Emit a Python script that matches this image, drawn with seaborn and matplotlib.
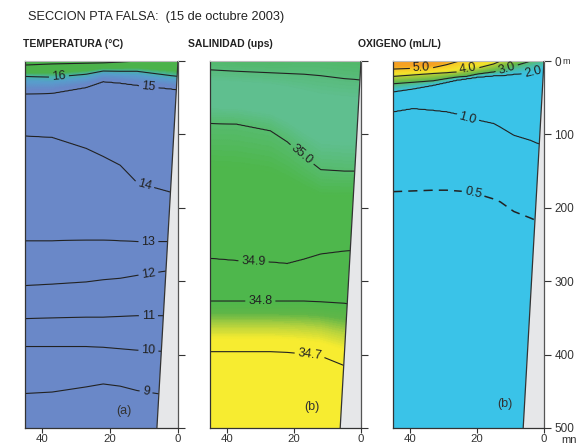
import numpy as np
import matplotlib
matplotlib.use("Agg")
import matplotlib.pyplot as plt
from matplotlib.colors import LinearSegmentedColormap, Normalize
import seaborn as sns

# ---------------- data ----------------
# Temperature (°C): depth (m) of each isotherm at distance from coast (nm)
temp_dist = [0, 2, 12, 17, 22, 27, 37, 45]
temp_levels = [17, 16, 15, 14, 13, 12, 11, 10, 9]
temp_d17 = [-3, -3, 0, 1.5, 2.5, 3, 4, 5.5]
temp_d16 = [21, 20, 14, 14, 13.6, 18, 22, 21]
temp_d15 = [39, 38, 33, 30, 28, 36, 44, 45]
temp_d14 = [180, 179, 166, 142, 130, 119, 104, 102]
temp_d13 = [246, 246, 246, 245, 244, 244, 245, 245]
temp_d12 = [285, 285, 292, 296, 298, 301, 304, 306]
temp_d11 = [347, 347, 347, 348, 349, 349, 350, 351]
temp_d10 = [396, 396, 394, 392, 390, 389, 389, 389]
temp_d9 = [456, 456, 449, 443, 440, 444, 451, 453]
temp_labels = [16, 15, 14, 13, 12, 11, 10, 9]

# Salinity (ups)
sal_dist = [0, 2, 5, 12, 17, 22, 27, 37, 45]
sal_levels = [35.1, 35.0, 34.9, 34.8, 34.7]
sal_d351 = [26, 25, 24, 20, 18, 17, 16, 14, 12]
sal_d350 = [150, 150, 150, 148, 130, 110, 95, 86, 85]
sal_d349 = [258, 258, 259, 263, 270, 276, 274, 272, 269]
sal_d348 = [333, 332, 330, 328, 327, 327, 327, 327, 327]
sal_d347 = [416, 416, 415, 402, 399, 397, 396, 396, 396]
sal_labels = [35.0, 34.9, 34.8, 34.7]

# Oxygen (mL/L)
oxy_dist = [0, 2, 4, 9, 13, 15, 20, 23, 26, 29, 33, 39, 45]
oxy_levels = [5.0, 4.0, 3.0, 2.0, 1.0, 0.5]
oxy_d50 = [-6, -6, -6, -6, -6, -6, -5, -3, 1, 5, 9, 10, 11]
oxy_d40 = [-4, -4, -4, -4, 0, 4, 10, 11, 15, 16, 17, 19, 21]
oxy_d30 = [-2, -2, 0, 7, 13, 15, 18, 21, 22, 24, 27, 29, 31]
oxy_d20 = [10, 13, 16, 18, 20, 20, 22, 24, 26, 29, 33, 38, 42]
oxy_d10 = [114, 112, 108, 101, 90, 85, 80, 77, 72, 69, 67, 64.5, 69]
oxy_d05 = [219, 218, 214, 205, 192, 188, 181, 178, 177, 176, 176, 177, 178]
oxy_labels = [5.0, 4.0, 3.0, 2.0, 1.0, 0.5]

# bottom topography (nm, m)
topo_dist = [0, 6.2]
topo_depth = [0, 500]

depth_ticks = [0, 100, 200, 300, 400, 500]
depth_ticklabels = ["0", "100", "200", "300", "400", "500"]
dist_ticks = [40, 20, 0]


# ---------------- helpers ----------------
def section_field(dist, levels, rows, xg, zg):
    D = np.array([np.interp(xg, dist, r) for r in rows])
    L = np.array(levels, float)
    F = np.empty((len(zg), len(xg)))
    for j in range(len(xg)):
        d = D[:, j]
        v = np.interp(zg, d, L)
        top = zg < d[0]
        v[top] = L[0] + (L[0] - L[1]) / (d[1] - d[0]) * (d[0] - zg[top])
        bot = zg > d[-1]
        v[bot] = L[-1] + (L[-1] - L[-2]) / (d[-1] - d[-2]) * (zg[bot] - d[-1])
        F[:, j] = v
    return F


def make_cmap(nodes, vmin, vmax):
    lst = [((v - vmin) / (vmax - vmin), tuple(c / 255 for c in col)) for v, col in nodes]
    return LinearSegmentedColormap.from_list("c", lst), Normalize(vmin, vmax)


sns.set_style("ticks")
plt.rcParams["font.family"] = ["Liberation Sans", "DejaVu Sans"]

xg = np.linspace(0, 45, 226)
zg = np.linspace(0, 500, 501)

T = section_field(temp_dist, temp_levels,
                  [temp_d17, temp_d16, temp_d15, temp_d14, temp_d13,
                   temp_d12, temp_d11, temp_d10, temp_d9], xg, zg)
S = section_field(sal_dist, sal_levels,
                  [sal_d351, sal_d350, sal_d349, sal_d348, sal_d347], xg, zg)
O = section_field(oxy_dist, oxy_levels,
                  [oxy_d50, oxy_d40, oxy_d30, oxy_d20, oxy_d10, oxy_d05], xg, zg)

blue = (106, 136, 200)
green = (76, 178, 74)
cmT, nT = make_cmap([(7, blue), (15.2, blue), (15.7, (88, 160, 205)),
                     (16.0, (70, 182, 170)), (16.3, green), (19, (70, 176, 72))], 7, 19)
yellow = (247, 236, 48)
sgreen = (78, 183, 76)
teal = (95, 191, 143)
cmS, nS = make_cmap([(34.3, yellow), (34.725, yellow), (34.75, (185, 212, 62)),
                     (34.775, (95, 182, 72)), (34.8, sgreen), (34.97, sgreen),
                     (35.03, teal), (35.08, teal), (35.13, (78, 182, 95)),
                     (35.3, (78, 182, 95))], 34.3, 35.3)
cyan = (58, 195, 232)
cmO, nO = make_cmap([(0, cyan), (1.9, cyan), (2.5, (75, 190, 170)), (3.1, (100, 185, 80)),
                     (3.7, (165, 202, 60)), (4.2, (245, 230, 45)), (4.8, (247, 205, 40)),
                     (5.3, (245, 165, 35)), (7, (244, 150, 35))], 0, 7)

W, H = 586, 446
fig = plt.figure(figsize=(W / 100, H / 100), dpi=100)
lefts = [25, 210, 393]
widths = [153, 151, 151]
axes = [fig.add_axes([l / W, 18 / H, w / W, 367 / H]) for l, w in zip(lefts, widths)]

panels = [
    (T, cmT, nT, temp_levels, temp_labels, "%d",
     [(35, 22), (8.6, 36), (10, 171), (8.7, 246), (8.7, 290), (8.7, 347), (8.7, 395), (9.4, 451)],
     None, "(a)", (16, 477)),
    (S, cmS, nS, sal_levels, sal_labels, "%.1f",
     [(17.7, 128), (32, 272), (30, 327), (15.2, 397)],
     None, "(b)", (14.6, 471)),
    (O, cmO, nO, oxy_levels, oxy_labels, "%.1f",
     [(36.5, 10), (22.7, 11), (11, 12), (3.3, 15), (22.7, 77), (21, 178)],
     "dash", "(b)", (11.6, 467)),
]

for i, (ax, (F, cm, nm, levs, labs, fmt, pos, dash, tag, tagpos)) in enumerate(zip(axes, panels)):
    ax.pcolormesh(xg, zg, F, cmap=cm, norm=nm, shading="gouraud", rasterized=True, zorder=1)
    lv = sorted(levs)
    styles = [(0, (6, 4)) if (dash and l == 0.5) else "-" for l in lv]
    widths_l = [1.1 if (dash and l == 0.5) else 0.8 for l in lv]
    cs = ax.contour(xg, zg, F, levels=lv, colors="#222222", linewidths=widths_l,
                    linestyles=styles, zorder=2)
    cl = ax.clabel(cs, levels=sorted(labs), fmt=fmt, manual=pos, inline=True,
                   fontsize=9, inline_spacing=3)
    for t in cl:
        t.set_color("#222222")
    ax.fill([topo_dist[0], topo_dist[1], 0], [topo_depth[0], topo_depth[1], 500],
            color="#e6e7e9", zorder=2.5, lw=0)
    sns.lineplot(x=topo_dist, y=topo_depth, ax=ax, color="#333333", lw=0.9,
                 sort=False, zorder=2.6)
    ax.set_xlim(45, 0)
    ax.set_ylim(500, 0)
    ax.set_xticks(dist_ticks)
    ax.set_xticklabels([str(v) for v in dist_ticks])
    ax.yaxis.tick_right()
    ax.set_yticks(depth_ticks)
    if i == 2:
        ax.set_yticklabels(depth_ticklabels)
    else:
        ax.set_yticklabels([])
    ax.tick_params(axis="x", direction="out", length=3.5, width=0.8, color="#333333",
                   labelsize=8.2, labelcolor="#333333", pad=0.8)
    ax.tick_params(axis="y", direction="out", length=5, width=0.8, color="#333333",
                   left=False, right=True, labelright=(i == 2), labelleft=False,
                   labelsize=8.5, labelcolor="#333333", pad=2.5)
    ax.set_xlabel("")
    ax.set_ylabel("")
    for s in ["left", "bottom"]:
        ax.spines[s].set_color("#333333")
        ax.spines[s].set_linewidth(0.9)
    ax.spines["right"].set_color("#555555")
    ax.spines["right"].set_linewidth(0.9)
    ax.spines["top"].set_color("#bbbbbb")
    ax.spines["top"].set_linewidth(0.8)
    ax.text(tagpos[0], tagpos[1], tag, fontsize=9, color="#333333",
            ha="center", va="center", zorder=4)

fig.text(28 / W, 1 - 17 / H, "SECCION PTA FALSA:  (15 de octubre 2003)",
         fontsize=9.2, va="center", ha="left", color="#222222")
for x, t in [(23, "TEMPERATURA (°C)"), (188, "SALINIDAD (ups)"), (358, "OXIGENO (mL/L)")]:
    fig.text(x / W, 1 - 44 / H, t, fontsize=7.5, fontweight="bold", va="center",
             ha="left", color="#222222")
fig.text(562 / W, 1 - 62 / H, "m", fontsize=6.5, va="center", ha="left", color="#333333")
fig.text(561 / W, 1 - 440 / H, "mn", fontsize=8, va="center", ha="left", color="#333333")

fig.savefig("out.png", dpi=100)
